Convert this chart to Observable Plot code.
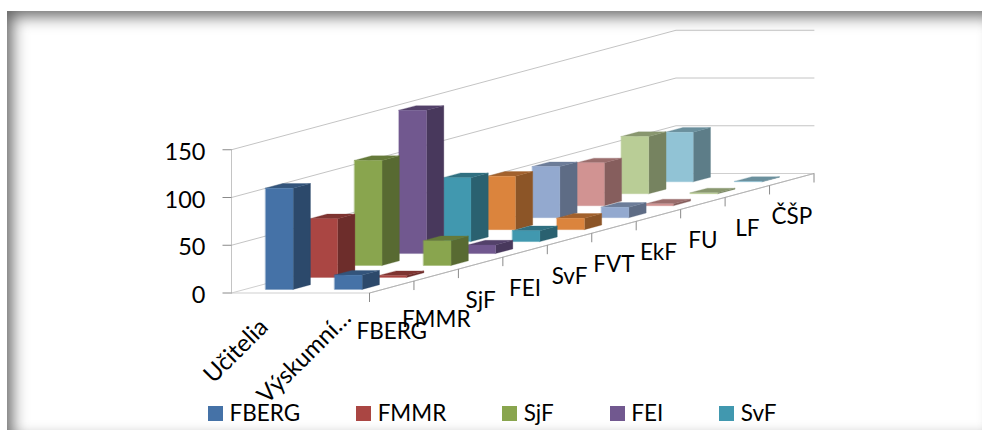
<!DOCTYPE html>
<html lang="sk">
<head>
<meta charset="utf-8">
<script src="https://cdn.jsdelivr.net/npm/d3@7"></script>
<script src="https://cdn.jsdelivr.net/npm/@observablehq/plot@0.6"></script>
<style>
  html, body { margin: 0; padding: 0; background: #fff; }
  #page { position: relative; width: 982px; height: 430px; overflow: hidden; font-family: Lato, "Open Sans", sans-serif; }
  #page svg { position: absolute; left: 0; top: 0; background: transparent; }
  #frame { position: absolute; left: 7px; top: 11px; width: 983px; height: 423px; pointer-events: none;
           box-shadow: inset 5px 5px 16px rgba(0,0,0,.62); }
  #legend { position: absolute; left: 208px; top: 400px; display: flex; gap: 56px; font-size: 22.5px; line-height: 26px; color: #000; }
  #legend span.item { display: flex; align-items: center; }
  #legend i { display: block; width: 15px; height: 15px; margin-right: 6.5px; }
</style>
</head>
<body>
<div id="page">
  <div id="frame"></div>
  <div id="legend"></div>
</div>
<script>
// Staff counts by faculty, in two groups
const categories = ["Učitelia", "Výskumní…"];
const series = ["FBERG", "FMMR", "SjF", "FEI", "SvF", "FVT", "EkF", "FU", "LF", "ČŠP"];
const teachers = [106, 61.5, 110, 150, 67, 56, 53.5, 45, 60, 52];
const researchers = [15, 2, 26, 9, 11.5, 12, 11, 2, 1, 0.5];
const valueTicks = [0, 50, 100, 150];
const colors = ["#4572A7", "#AA4643", "#89A54E", "#71588F", "#4198AF", "#DB843D", "#93A9CF", "#D19392", "#B9CD96", "#91C3D5"];
const legendCount = 5;

// Oblique projection: one step back along the faculty axis moves the point
// right in category units and up in value units.
const pxPerCategory = 69;
const pxPerValue = 0.955;
const stepX = 44.45 / pxPerCategory;
const stepY = 11.95 / pxPerValue;
const project = (cat, depth, value) => ({x: cat + depth * stepX, y: value + depth * stepY});
const nudge = (p, dx, dy) => ({x: p.x + dx / pxPerCategory, y: p.y - dy / pxPerValue});

const shade = (hex, k) => d3.rgb(hex).darker(k).formatHex();

// Faces of every bar, ordered from the back of the floor to the front
const faces = [];
const addFace = (id, fill, corners) => {
  for (const [c, d, v] of corners) faces.push({id, fill, ...project(c, d, v)});
};
d3.range(series.length).reverse().forEach((s) => {
  [teachers, researchers].forEach((values, c) => {
    const v = values[s], l = c + 0.3, r = c + 0.7, f = s + 0.3, b = s + 0.69;
    const id = `${s}-${c}`, color = colors[s];
    addFace(`${id}-side`, shade(color, 1.25), [[r, f, 0], [r, b, 0], [r, b, v], [r, f, v]]);
    addFace(`${id}-top`, shade(color, 0.85), [[l, f, v], [r, f, v], [r, b, v], [l, b, v]]);
    addFace(`${id}-front`, color, [[l, f, 0], [r, f, 0], [r, f, v], [l, f, v]]);
  });
});

// Wall gridlines run from the front of the left wall to the back, then along the back wall
const n = series.length, w = categories.length;
const gridRows = valueTicks.filter((v) => v > 0).flatMap((v) =>
  [[0, 0, v], [0, n, v], [w, n, v]].map(([c, d, val]) => ({v, ...project(c, d, val)}))
);
const floorRows = [[0, 0], [w, 0], [w, n], [0, n], [0, 0]].map(([c, d]) => project(c, d, 0));
const axisRows = [project(0, 0, 0), project(0, 0, 150)];
const frontRows = [[w, 0], [w, n]].map(([c, d]) => project(c, d, 0));

const tickLenX = 9 / pxPerCategory;
const tickLenY = 9 / pxPerValue;
const seriesTicks = d3.range(n + 1).map((i) => project(w, i, 0));

// Faculty labels sit below the floor edge; the two frontmost hang slightly lower
const seriesLabels = series.map((name, i) => ({name, ...nudge(project(w, i + 0.5, 0), 0, i < 2 ? 45 : 37.5)}));
// Group labels end just under their own bar pair
const categoryOffsets = [[-2, 30], [12, 21]];
const categoryLabels = categories.map((name, i) => ({name, ...nudge(project(i + 0.5, 0, 0), ...categoryOffsets[i])}));

const height = 430, width = 982, originX = 231, originY = 292.5;

const chart = Plot.plot({
  width, height,
  margin: 0,
  x: {domain: [-originX / pxPerCategory, (width - originX) / pxPerCategory], range: [0, width], axis: null},
  y: {domain: [(originY - height) / pxPerValue, originY / pxPerValue], range: [height, 0], axis: null},
  style: {fontFamily: "Lato, 'Open Sans', sans-serif", fontSize: "22px", color: "#000"},
  marks: [
    Plot.line(gridRows, {x: "x", y: "y", z: "v", stroke: "#c4c4c4", strokeWidth: 1}),
    Plot.line(floorRows, {x: "x", y: "y", stroke: "#cfcfcf", strokeWidth: 1}),
    Plot.line(axisRows, {x: "x", y: "y", stroke: "#c4c4c4", strokeWidth: 1}),
    Plot.line(frontRows, {x: "x", y: "y", stroke: "#b4b4b4", strokeWidth: 1}),
    Plot.link(valueTicks, {x1: -tickLenX, x2: 0, y1: (d) => d, y2: (d) => d, stroke: "#8a8a8a", strokeWidth: 1}),
    Plot.link(seriesTicks, {x1: "x", x2: "x", y1: "y", y2: (d) => d.y - tickLenY, stroke: "#8a8a8a", strokeWidth: 1}),
    Plot.line(faces, {x: "x", y: "y", z: "id", fill: "fill", stroke: "fill", strokeWidth: 0.3, curve: "linear-closed"}),
    Plot.text(valueTicks, {x: -26 / pxPerCategory, y: (d) => d, text: (d) => String(d), textAnchor: "end", dy: 2.5, fontSize: 23.5}),
    Plot.text(seriesLabels, {x: "x", y: "y", text: "name", fontSize: 22.5}),
    Plot.text(categoryLabels, {x: "x", y: "y", text: "name", fontSize: 24, rotate: -45, textAnchor: "end"})
  ]
});

document.getElementById("page").insertBefore(chart, document.getElementById("frame"));

// Legend lists the first faculties only
const legend = d3.select("#legend");
series.slice(0, legendCount).forEach((name, i) => {
  const item = legend.append("span").attr("class", "item");
  item.append("i").style("background", colors[i]);
  item.append("span").text(name);
});
</script>
</body>
</html>
